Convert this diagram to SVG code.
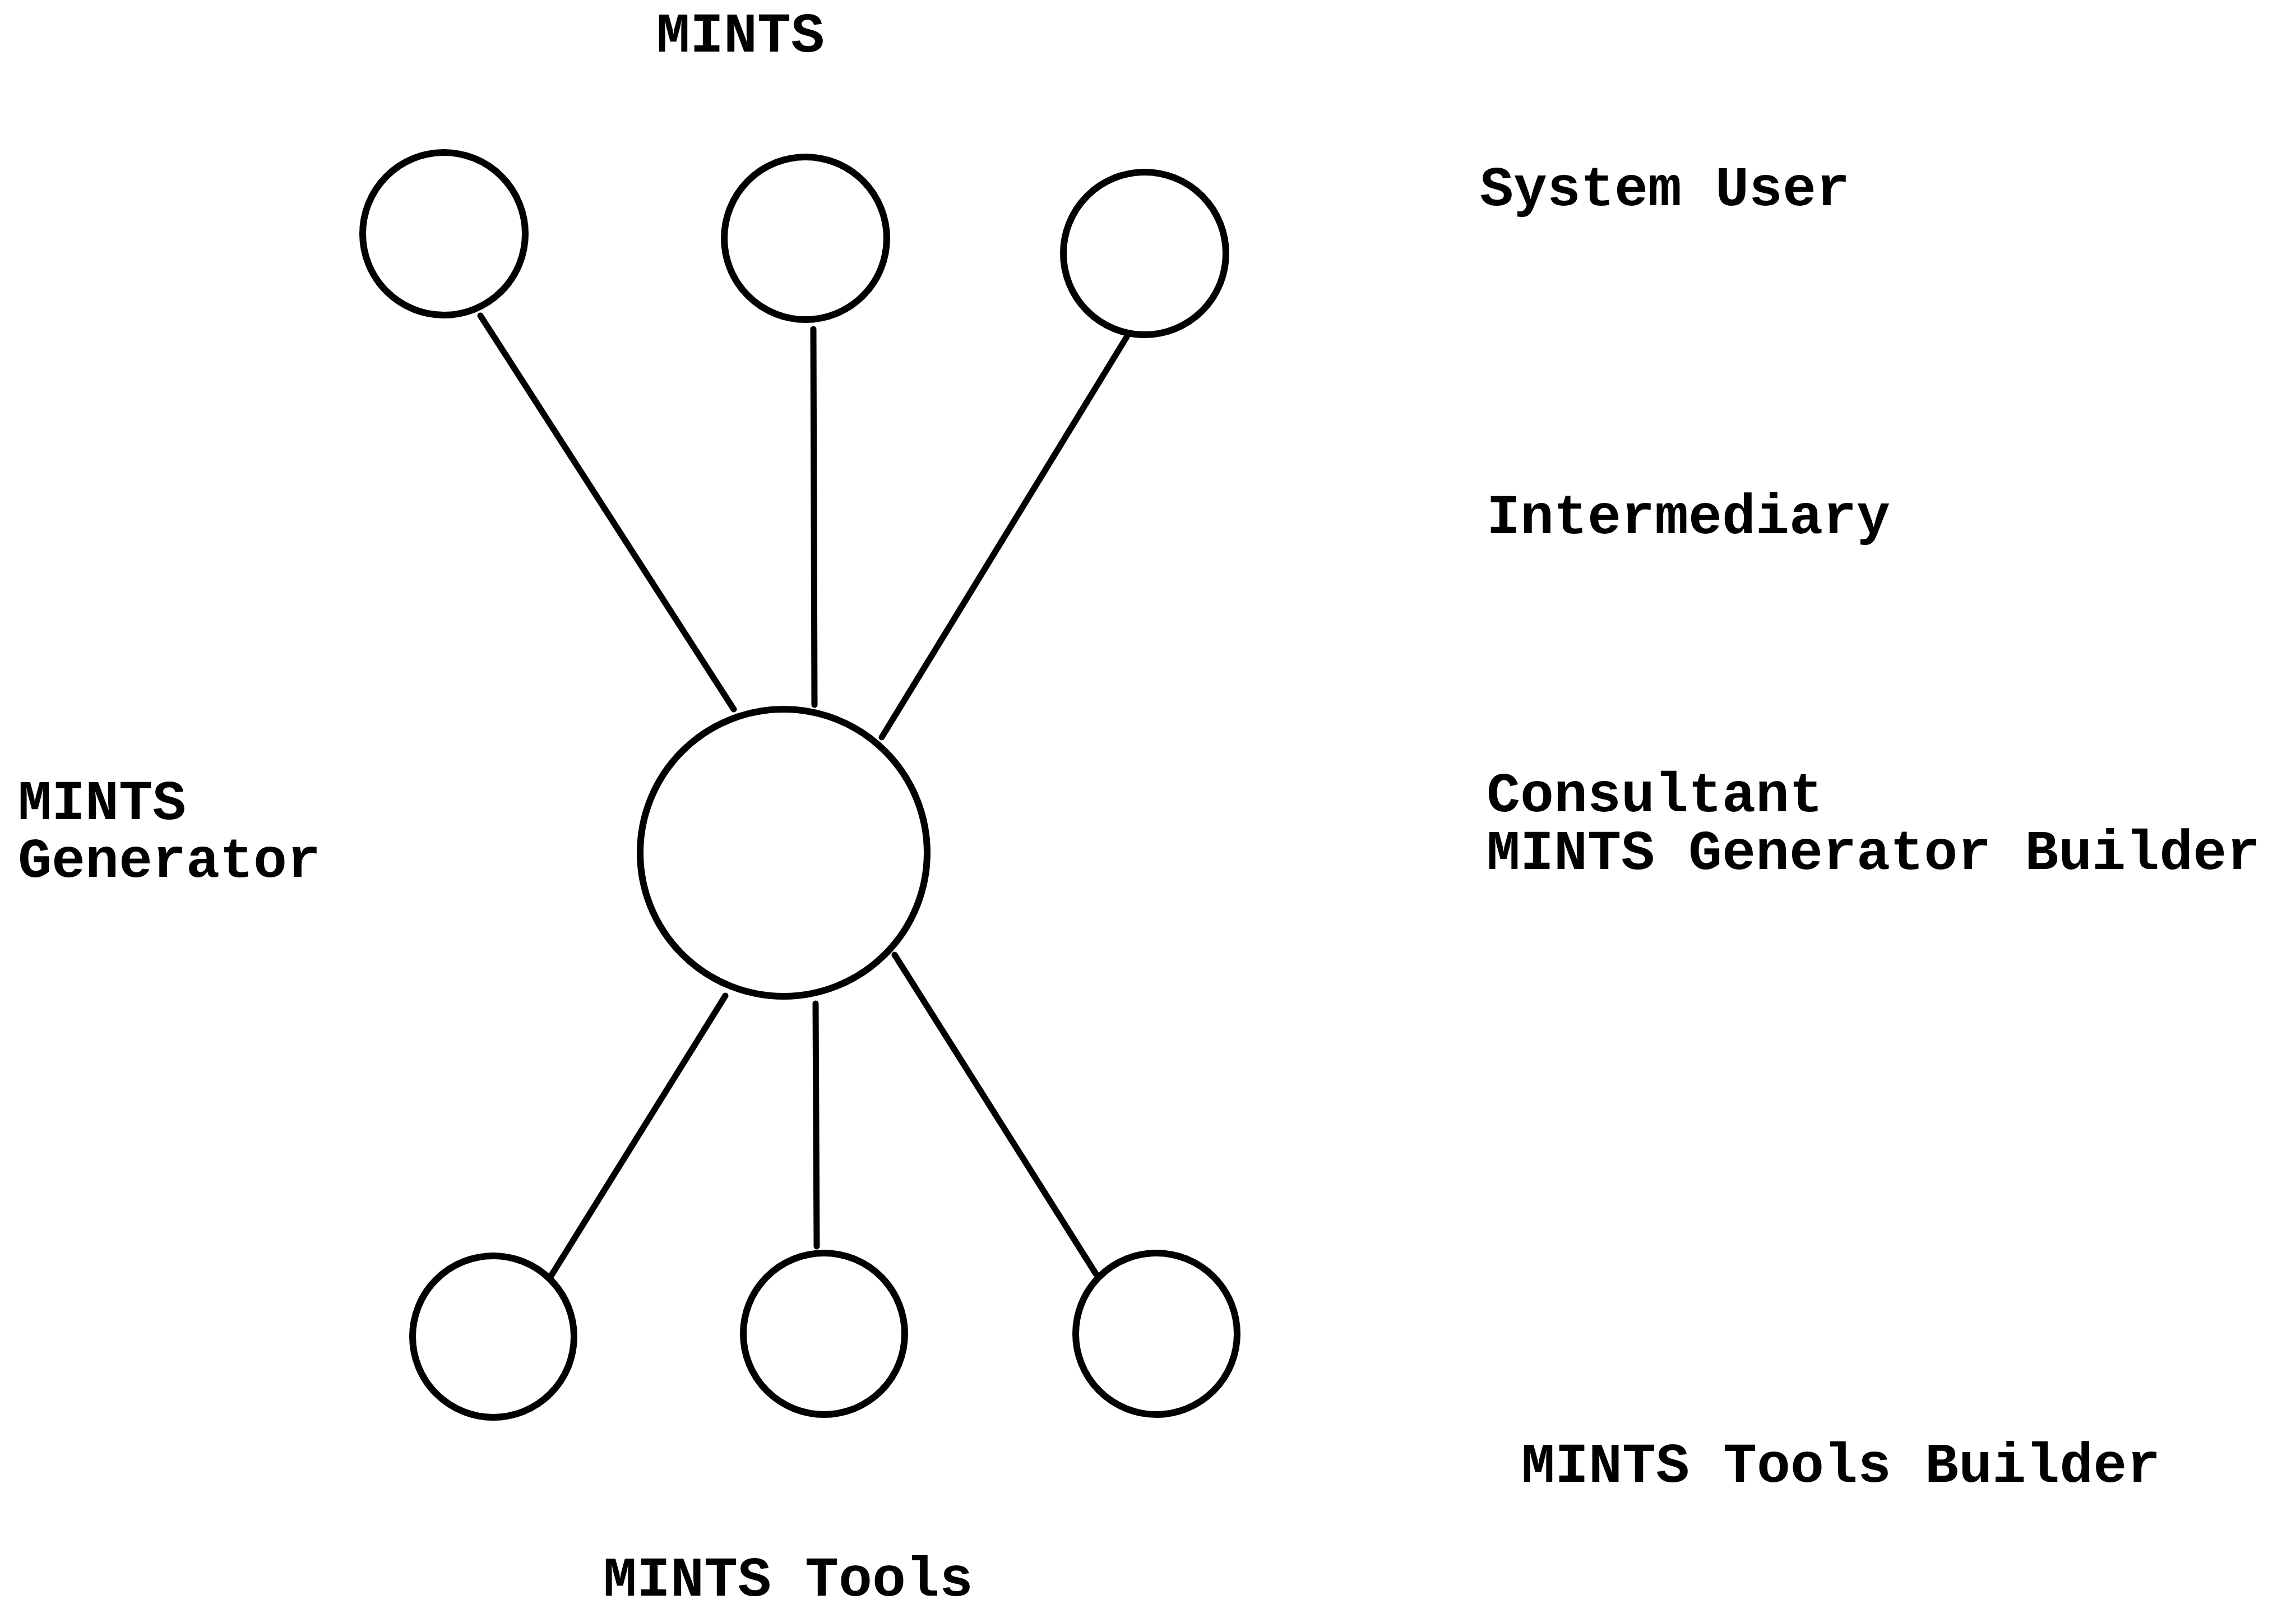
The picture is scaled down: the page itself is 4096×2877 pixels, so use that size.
<svg xmlns="http://www.w3.org/2000/svg" width="4096" height="2877" viewBox="0 0 4096 2877">
  <style>
    .node { fill: none; stroke: #000; stroke-width: 12; }
    .edge { stroke: #000; stroke-width: 11; stroke-linecap: round; }
    .label { font-family: "Liberation Mono", "Courier New", monospace; font-weight: bold; font-size: 100px; fill: #000; }
  </style>
  <rect width="4096" height="2877" fill="#fff"/>

  <!-- connectors between the generator hub and the outer nodes -->
  <g id="connectors">
    <line class="edge" x1="857" y1="563" x2="1309" y2="1265"/>
    <line class="edge" x1="1451" y1="587" x2="1453" y2="1257"/>
    <line class="edge" x1="2010" y1="601" x2="1573" y2="1315"/>
    <line class="edge" x1="1294" y1="1776" x2="981" y2="2279"/>
    <line class="edge" x1="1455" y1="1790" x2="1457" y2="2223"/>
    <line class="edge" x1="1596" y1="1703" x2="1955" y2="2272"/>
  </g>

  <!-- top row: MINTS -->
  <g id="mints-1"><circle class="node" cx="792" cy="417" r="145"/></g>
  <g id="mints-2"><circle class="node" cx="1437" cy="425" r="145"/></g>
  <g id="mints-3"><circle class="node" cx="2042" cy="452" r="145"/></g>

  <!-- hub: MINTS Generator -->
  <g id="mints-generator"><circle class="node" cx="1398" cy="1521" r="256"/></g>

  <!-- bottom row: MINTS Tools -->
  <g id="tool-1"><circle class="node" cx="880" cy="2384" r="144"/></g>
  <g id="tool-2"><circle class="node" cx="1470" cy="2379" r="144"/></g>
  <g id="tool-3"><circle class="node" cx="2063" cy="2379" r="144"/></g>

  <!-- labels -->
  <g id="labels">
    <text class="label" x="1171" y="92">MINTS</text>
    <text class="label" x="2640" y="366">System User</text>
    <text class="label" x="2652" y="951">Intermediary</text>
    <text class="label" x="2652" y="1447">Consultant</text>
    <text class="label" x="2652" y="1550">MINTS Generator Builder</text>
    <text class="label" x="32" y="1461">MINTS</text>
    <text class="label" x="32" y="1564">Generator</text>
    <text class="label" x="2714" y="2643">MINTS Tools Builder</text>
    <text class="label" x="1076" y="2846">MINTS Tools</text>
  </g>
</svg>
